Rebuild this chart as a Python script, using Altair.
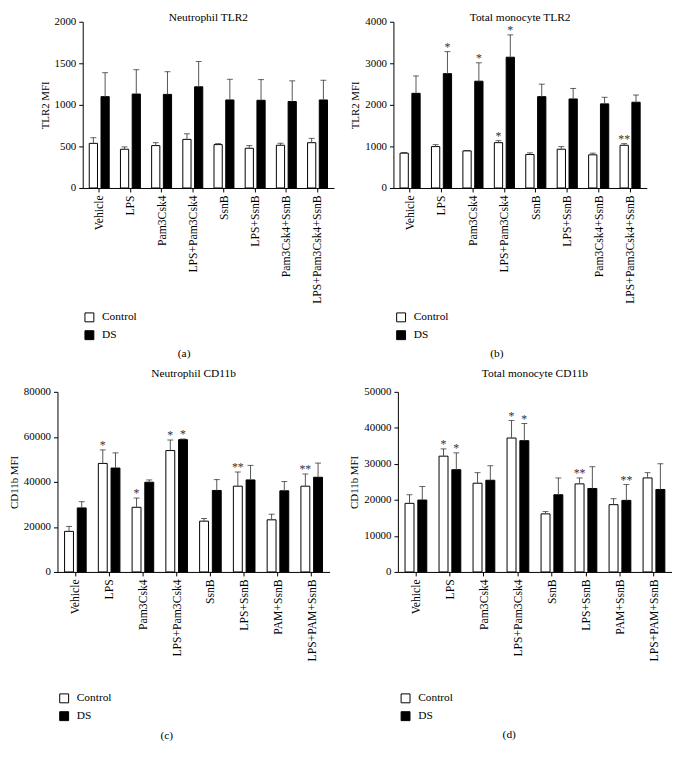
import altair as alt
import pandas as pd

FONT = "Liberation Serif"
groups = ["Control", "DS"]

cats_tlr2 = ["Vehicle", "LPS", "Pam3Csk4", "LPS+Pam3Csk4", "SsnB", "LPS+SsnB",
             "Pam3Csk4+SsnB", "LPS+Pam3Csk4+SsnB"]
cats_cd11b = ["Vehicle", "LPS", "Pam3Csk4", "LPS+Pam3Csk4", "SsnB", "LPS+SsnB",
              "PAM+SsnB", "LPS+PAM+SsnB"]

# (a) Neutrophil TLR2
a_ctrl = [537, 466, 510, 585, 522, 478, 514, 545]
a_ctrl_err = [68, 28, 35, 67, 12, 32, 24, 52]
a_ds = [1099, 1130, 1126, 1217, 1059, 1055, 1040, 1059]
a_ds_err = [288, 293, 273, 305, 249, 249, 249, 237]
a_ctrl_sig = ["", "", "", "", "", "", "", ""]
a_ds_sig = ["", "", "", "", "", "", "", ""]

# (b) Total monocyte TLR2
b_ctrl = [838, 996, 893, 1091, 806, 933, 798, 1028]
b_ctrl_err = [16, 47, 8, 47, 40, 63, 40, 39]
b_ds = [2277, 2751, 2569, 3146, 2198, 2142, 2024, 2063]
b_ds_err = [419, 530, 443, 538, 300, 253, 158, 174]
b_ctrl_sig = ["", "", "", "*", "", "", "", "**"]
b_ds_sig = ["", "*", "*", "*", "", "", "", ""]

# (c) Neutrophil CD11b
c_ctrl = [18022, 48205, 28718, 53919, 22564, 38095, 23150, 38095]
c_ctrl_err = [2200, 6007, 4103, 4689, 1172, 6301, 2491, 5421]
c_ds = [28425, 46154, 39853, 58755, 36190, 40879, 36044, 42051]
c_ds_err = [2784, 6740, 1026, 293, 4836, 6447, 4103, 6301]
c_ctrl_sig = ["", "*", "*", "*", "", "**", "", "**"]
c_ds_sig = ["", "", "", "*", "", "", "", ""]

# (d) Total monocyte CD11b
d_ctrl = [19048, 32143, 24634, 37179, 16117, 24451, 18681, 26099]
d_ctrl_err = [2381, 2015, 2930, 4854, 641, 1648, 1649, 1465]
d_ds = [19963, 28388, 25458, 36447, 21429, 23169, 19872, 22894]
d_ds_err = [3755, 4671, 4029, 4762, 4670, 6043, 4395, 7143]
d_ctrl_sig = ["", "*", "", "*", "", "**", "", ""]
d_ds_sig = ["", "*", "", "*", "", "", "**", ""]


def make_df(cats, ctrl, ctrl_err, ds, ds_err, ctrl_sig, ds_sig):
    rows = []
    for i, c in enumerate(cats):
        rows.append(dict(treatment=c, group="Control", value=ctrl[i],
                         top=ctrl[i] + ctrl_err[i], sig=ctrl_sig[i]))
        rows.append(dict(treatment=c, group="DS", value=ds[i],
                         top=ds[i] + ds_err[i], sig=ds_sig[i]))
    return pd.DataFrame(rows)


def panel(df, cats, title, ytitle, ymax, ystep, w, h, caption, cap_x, cap_y,
          leg_x, leg_y, title_offset):
    yscale = alt.Scale(domain=[0, ymax], nice=False, zero=True)
    yaxis = alt.Axis(values=list(range(0, ymax + 1, ystep)), format="d",
                     title=ytitle, grid=False, labelPadding=3, titlePadding=4)
    xenc = alt.X("treatment:N", sort=cats,
                 scale=alt.Scale(paddingInner=0.36, paddingOuter=0.21),
                 axis=alt.Axis(title=caption, labelAngle=-90, labelPadding=3,
                               labelFontSize=11.8,
                               titleX=cap_x, titleY=cap_y, titleBaseline="middle",
                               titleAlign="center", titleFontSize=11.5))
    xoff = alt.XOffset("group:N", sort=groups, scale=alt.Scale(paddingInner=0.3))
    base = alt.Chart(df).encode(x=xenc, xOffset=xoff)
    bars = base.mark_bar(stroke="black", strokeWidth=1).encode(
        y=alt.Y("value:Q", scale=yscale, axis=yaxis),
        fill=alt.Fill("group:N", sort=groups,
                      scale=alt.Scale(domain=groups, range=["white", "black"]),
                      legend=alt.Legend(title=None, orient="none", legendX=leg_x,
                                        legendY=leg_y, symbolType="square",
                                        symbolSize=81, symbolStrokeColor="black",
                                        symbolStrokeWidth=1, labelFont=FONT,
                                        labelFontSize=11.5, labelOffset=7,
                                        rowPadding=4, padding=0,
                                        direction="vertical")))
    whisk = base.mark_rule(color="#555", strokeWidth=1).encode(
        y=alt.Y("value:Q", scale=yscale, axis=yaxis), y2="top:Q")
    caps = base.mark_tick(color="#222", size=6, thickness=1).encode(
        y=alt.Y("top:Q", scale=yscale, axis=yaxis))
    stars = base.mark_text(font=FONT, fontSize=12, fill="#333",
                           baseline="alphabetic", dy=-1).encode(
        y=alt.Y("top:Q", scale=yscale, axis=yaxis), text="sig:N")
    return alt.layer(bars, whisk, caps, stars).properties(
        width=w, height=h, title=alt.Title(title, offset=title_offset))


pa = panel(make_df(cats_tlr2, a_ctrl, a_ctrl_err, a_ds, a_ds_err, a_ctrl_sig, a_ds_sig),
           cats_tlr2, "Neutrophil TLR2", "TLR2 MFI", 2000, 500, 254, 168,
           "(a)", 102, 167, 1, 293, -8)
pb = panel(make_df(cats_tlr2, b_ctrl, b_ctrl_err, b_ds, b_ds_err, b_ctrl_sig, b_ds_sig),
           cats_tlr2, "Total monocyte TLR2", "TLR2 MFI", 4000, 1000, 256, 168,
           "(b)", 104, 167, 2, 293, -8)
pc = panel(make_df(cats_cd11b, c_ctrl, c_ctrl_err, c_ds, c_ds_err, c_ctrl_sig, c_ds_sig),
           cats_cd11b, "Neutrophil CD11b", "CD11b MFI", 80000, 20000, 275, 182,
           "(c)", 110, 165, 1, 304, 7)
pd_ = panel(make_df(cats_cd11b, d_ctrl, d_ctrl_err, d_ds, d_ds_err, d_ctrl_sig, d_ds_sig),
            cats_cd11b, "Total monocyte CD11b", "CD11b MFI", 50000, 10000, 277, 182,
            "(d)", 112, 164, 2, 304, 7)

row1 = alt.hconcat(pa, pb, spacing=16).resolve_scale(
    fill="independent", xOffset="independent").resolve_legend(fill="independent")
row2 = alt.hconcat(pc, pd_, spacing=19).resolve_scale(
    fill="independent", xOffset="independent").resolve_legend(fill="independent")

chart = alt.concat(row1, row2, columns=1, spacing=8,
                   center=alt.RowColboolean(row=False, column=True)).resolve_scale(
    fill="independent", xOffset="independent").resolve_legend(
    fill="independent").configure_axis(
    labelFont=FONT, titleFont=FONT, labelFontSize=11, titleFontSize=11,
    titleFontWeight="normal", domainColor="black", tickColor="black",
    labelColor="black", titleColor="black", tickSize=4, grid=False
).configure_legend(
    labelFont=FONT, labelFontSize=11.5, labelColor="black"
).configure_title(
    font=FONT, fontSize=11.5, fontWeight="normal", color="black"
).configure_view(strokeWidth=0).properties(background="white", padding=0)

chart.save("out.html", embed_options={"renderer": "svg", "actions": False})
